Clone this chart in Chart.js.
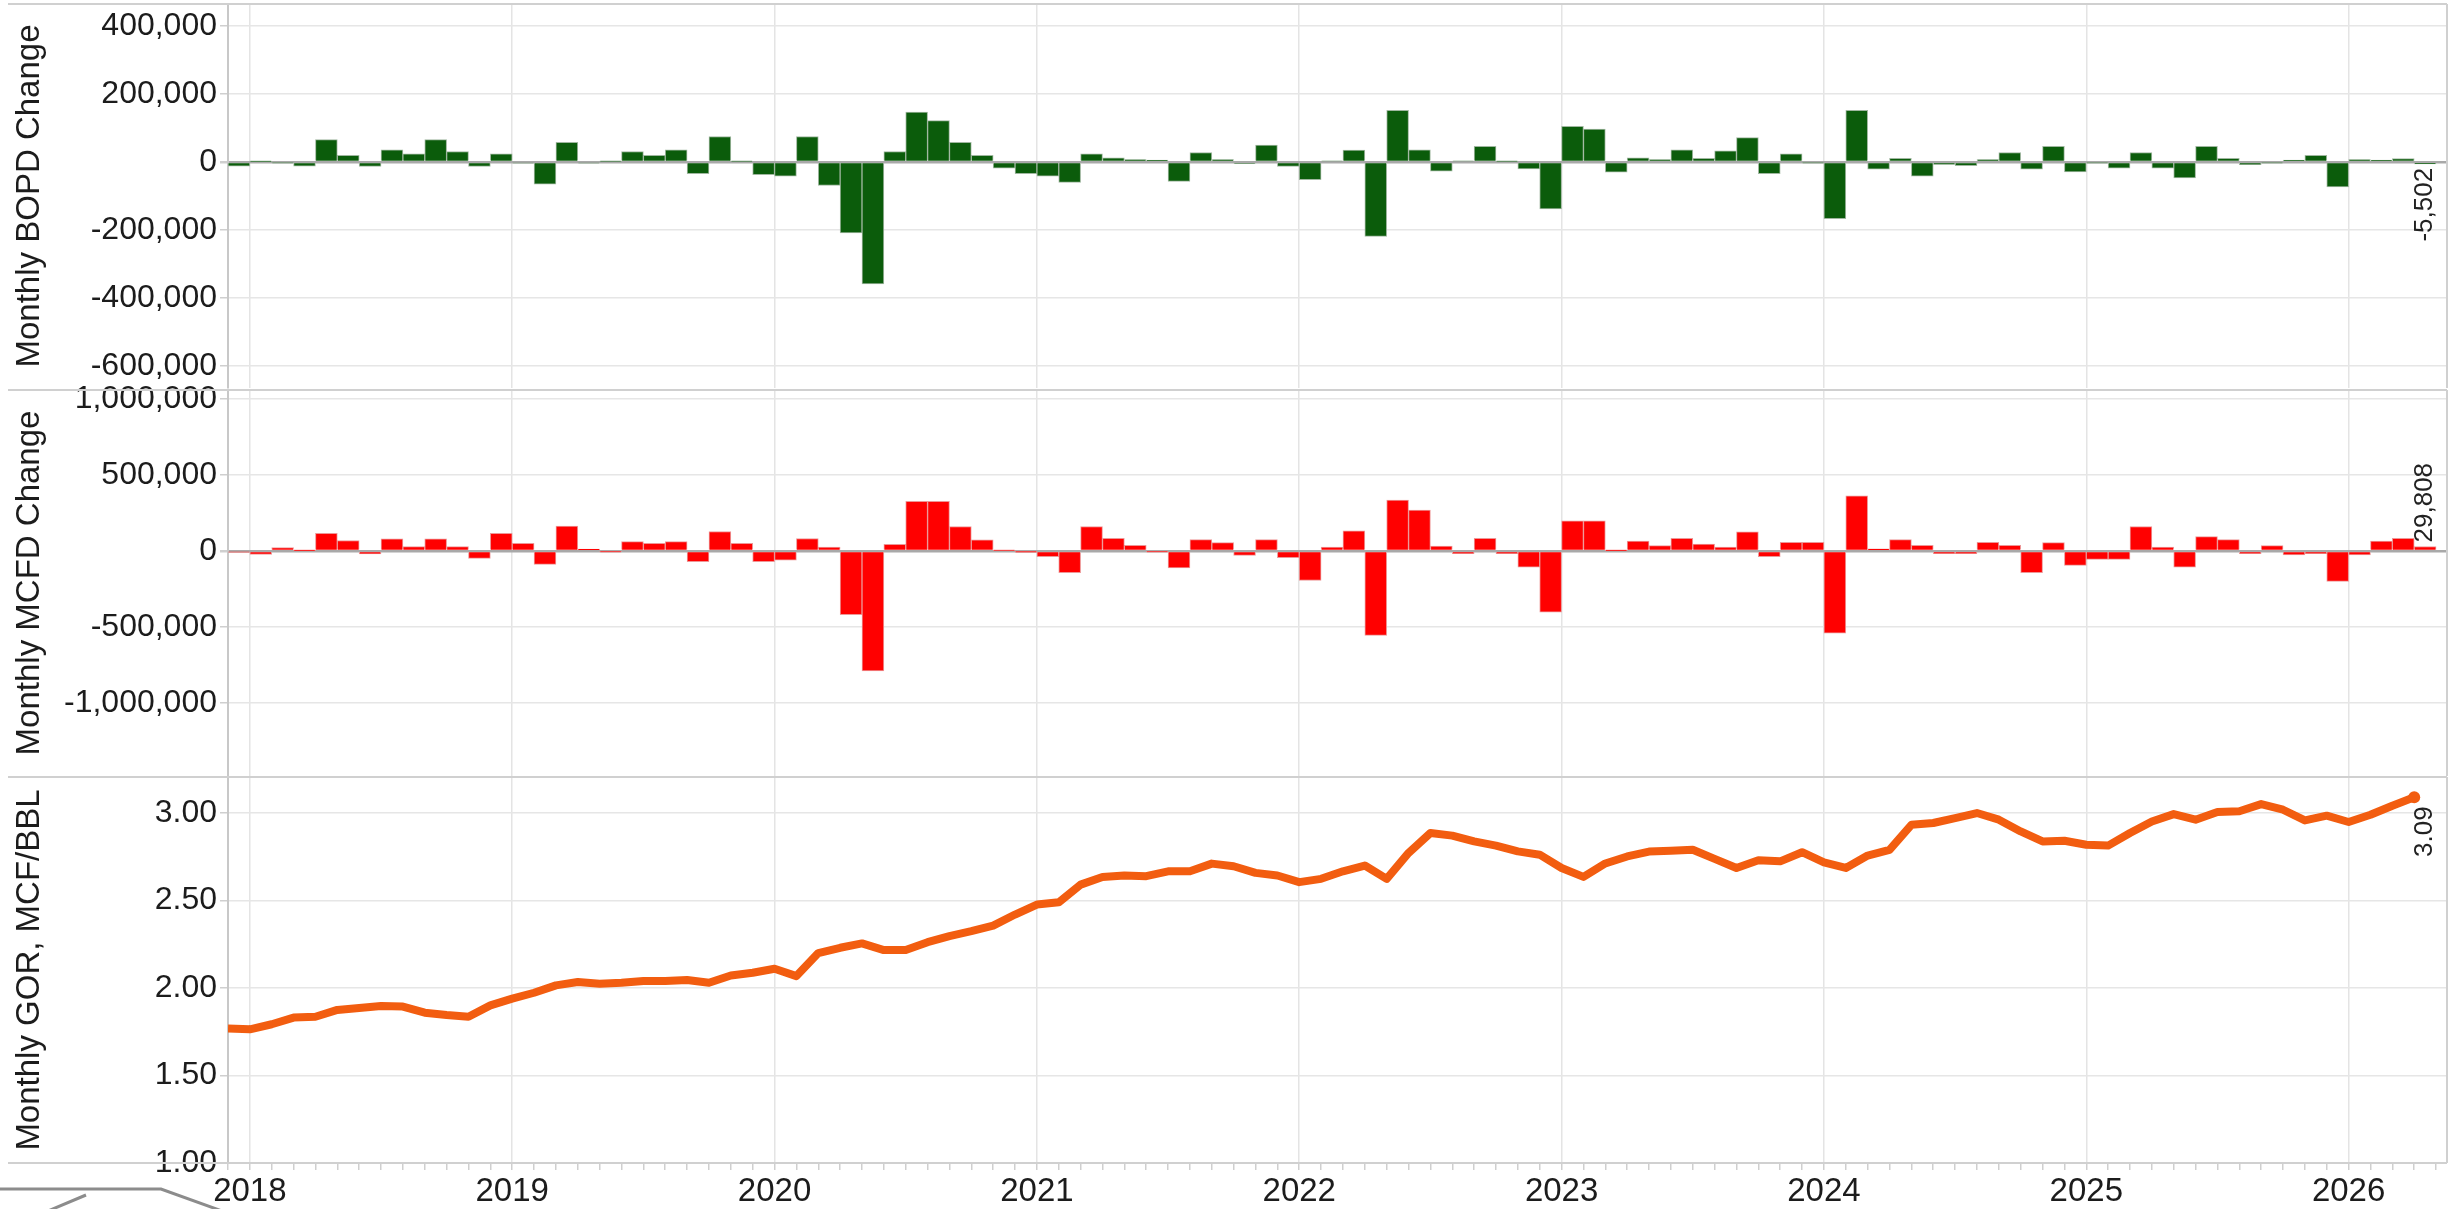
<!DOCTYPE html>
<html>
<head>
<meta charset="utf-8">
<script src="https://cdn.jsdelivr.net/npm/chart.js@4.4.1/dist/chart.umd.min.js"></script>
<style>
  html, body { margin: 0; padding: 0; background: #fff; }
  #wrap { position: relative; width: 2455px; height: 1209px; overflow: hidden; background: #fff; }
  #wrap canvas { position: absolute; left: 0; }
</style>
</head>
<body>
<div id="wrap">
  <canvas id="bopd" width="2455" height="444" style="top:-26px"></canvas>
  <canvas id="mcfd" width="2455" height="446" style="top:360px"></canvas>
  <canvas id="gor" width="2455" height="462" style="top:747px"></canvas>
</div>
<script>
// months run Dec 2017 .. Apr 2026, x = months after Jan 2018
var startYear = 2017, startMonth = 12, monthCount = 101;
var months = [];
for (var i = 0; i < monthCount; i++) {
    var m = startMonth - 1 + i;
    var y = startYear + Math.floor(m / 12);
    months.push(y + '-' + String(m % 12 + 1).padStart(2, '0'));
}
var yearTicks = ['2018', '2019', '2020', '2021', '2022', '2023', '2024', '2025', '2026'];
var bopdTicks = [-600000, -400000, -200000, 0, 200000, 400000];
var mcfdTicks = [-1000000, -500000, 0, 500000, 1000000];
var gorTicks = [1.0, 1.5, 2.0, 2.5, 3.0];

var bopdChange = [
    -12000,
    1000, -2000, -12000, 66000, 20000, -13000, 36000, 24000, 66000, 31000, -13000, 24000,
    -3000, -65000, 58000, -3000, 2000, 31000, 20000, 36000, -34000, 75000, 2000, -37000,
    -42000, 75000, -69000, -209000, -359000, 31000, 147000, 122000, 58000, 20000, -18000, -34000,
    -42000, -60000, 24000, 12000, 7000, 6000, -57000, 28000, 7000, -4000, 50000, -13000,
    -52000, 3000, 35000, -219000, 152000, 36000, -27000, 3000, 46000, 2000, -20000, -138000,
    105000, 97000, -30000, 12000, 7000, 36000, 11000, 33000, 72000, -34000, 24000, -2000,
    -167000, 152000, -21000, 11000, -42000, -7000, -11000, 7000, 28000, -21000, 46000, -29000,
    -2000, -18000, 28000, -18000, -47000, 46000, 11000, -8000, -2000, 6000, 20000, -73000,
    7000, 6000, 10000, -5502
];
var mcfdChange = [
    -5000,
    -22000, 22000, 1000, 117000, 69000, -20000, 80000, 29000, 80000, 29000, -49000, 117000,
    51000, -88000, 164000, 13000, -3000, 62000, 51000, 62000, -71000, 128000, 51000, -71000,
    -60000, 82000, 25000, -418000, -789000, 44000, 326000, 326000, 161000, 73000, 2000, -2000,
    -37000, -143000, 161000, 84000, 37000, -3000, -112000, 75000, 55000, -29000, 75000, -44000,
    -194000, 26000, 132000, -555000, 335000, 269000, 33000, -18000, 84000, -18000, -106000, -403000,
    198000, 198000, 1000, 66000, 35000, 84000, 46000, 26000, 126000, -37000, 57000, 57000,
    -540000, 363000, 15000, 75000, 37000, -18000, -18000, 57000, 37000, -143000, 55000, -95000,
    -55000, -55000, 161000, 26000, -106000, 95000, 75000, -18000, 35000, -26000, -18000, -200000,
    -26000, 66000, 84000, 29808
];
var gorMonthly = [
    1.768,
    1.764, 1.793, 1.831, 1.836, 1.875, 1.886, 1.897, 1.894, 1.859, 1.846, 1.836, 1.901,
    1.939, 1.973, 2.015, 2.034, 2.025, 2.030, 2.040, 2.040, 2.046, 2.030, 2.072, 2.087,
    2.110, 2.068, 2.200, 2.230, 2.255, 2.217, 2.217, 2.262, 2.297, 2.325, 2.357, 2.420,
    2.477, 2.490, 2.591, 2.635, 2.643, 2.639, 2.667, 2.667, 2.711, 2.696, 2.658, 2.643,
    2.605, 2.624, 2.667, 2.700, 2.624, 2.772, 2.886, 2.871, 2.838, 2.814, 2.781, 2.762,
    2.686, 2.635, 2.712, 2.752, 2.780, 2.785, 2.790, 2.738, 2.686, 2.730, 2.724, 2.776,
    2.718, 2.686, 2.757, 2.790, 2.933, 2.943, 2.971, 3.000, 2.962, 2.895, 2.838, 2.842,
    2.819, 2.814, 2.886, 2.952, 2.994, 2.962, 3.006, 3.010, 3.051, 3.019, 2.958, 2.985,
    2.949, 2.990, 3.042, 3.090
];

Chart.defaults.font.family = '"Liberation Sans", Arial, sans-serif';
Chart.defaults.color = '#1c1c1c';

function monthX(key) {
    var p = key.split('-');
    return (+p[0] - 2018) * 12 + (+p[1] - 1);
}

// frame lines that run across the whole width like the panel dividers
var frameLines = {
    id: 'frameLines',
    afterDraw: function(chart, args, opts) {
        var ctx = chart.ctx, a = chart.chartArea;
        ctx.save();
        ctx.strokeStyle = '#d0d0d0';
        ctx.lineWidth = 2;
        ctx.beginPath();
        ctx.moveTo(8, a.top); ctx.lineTo(a.right, a.top);
        ctx.moveTo(a.right, a.top); ctx.lineTo(a.right, a.bottom);
        if (opts.bottom) { ctx.moveTo(8, a.bottom); ctx.lineTo(a.right, a.bottom); }
        ctx.stroke();
        if (opts.tab) {
            // cut off tab outline in the lower left corner
            ctx.strokeStyle = '#8c8c8c';
            ctx.lineWidth = 3;
            ctx.beginPath();
            ctx.moveTo(0, a.bottom + 26); ctx.lineTo(161, a.bottom + 26); ctx.lineTo(222, a.bottom + 48);
            ctx.moveTo(48, a.bottom + 48); ctx.lineTo(86, a.bottom + 32);
            ctx.stroke();
        }
        ctx.restore();
    }
};

// rotated label with the latest value
var lastValue = {
    id: 'lastValue',
    afterDatasetsDraw: function(chart, args, opts) {
        var meta = chart.getDatasetMeta(0);
        var el = meta.data[meta.data.length - 1];
        var pt = chart.data.datasets[0].data[meta.data.length - 1];
        var x = chart.scales.x.getPixelForValue(opts.line ? pt.x + 0.5 : pt.x);
        var y, align;
        if (opts.line) { y = el.y + 9; align = 'right'; }
        else if (pt.y < 0) { y = Math.max(el.y, el.base) + 4; align = 'right'; }
        else { y = Math.min(el.y, el.base) - 4; align = 'left'; }
        var ctx = chart.ctx;
        ctx.save();
        ctx.translate(x, y);
        ctx.rotate(-Math.PI / 2);
        ctx.font = '26px "Liberation Sans", Arial, sans-serif';
        ctx.fillStyle = '#222';
        ctx.textAlign = align;
        ctx.textBaseline = 'middle';
        ctx.fillText(opts.format(pt.y), 0, 0);
        ctx.restore();
    }
};

function xAxis(showLabels) {
    return {
        type: 'linear',
        min: -1,
        max: 100.5,
        offset: false,
        afterFit: function(s) { s.height = showLabels ? 46 : 0; },
        border: { display: false },
        grid: {
            offset: false,
            drawTicks: showLabels,
            tickLength: 7,
            lineWidth: 1.5,
            color: function(c) { return c.tick && c.tick.value % 12 === 0 ? '#e4e4e4' : 'rgba(0,0,0,0)'; },
            tickColor: '#cfcfcf'
        },
        ticks: {
            display: showLabels,
            stepSize: 1,
            autoSkip: false,
            maxRotation: 0,
            includeBounds: false,
            padding: 2,
            font: { size: 33 },
            callback: function(v) { return v % 12 === 0 ? yearTicks[v / 12] : ''; }
        }
    };
}

function yAxis(title, min, max, tickValues, fmt) {
    return {
        min: min,
        max: max,
        afterFit: function(s) { s.width = 228; },
        afterBuildTicks: function(s) { s.ticks = tickValues.map(function(v) { return { value: v }; }); },
        border: { display: true, color: '#c8c8c8', width: 2 },
        grid: {
            lineWidth: function(c) { return c.tick && c.tick.value === 0 ? 2.5 : 1.5; },
            color: function(c) { return c.tick && c.tick.value === 0 ? '#a9a9a9' : '#e6e6e6'; },
            tickLength: 8,
            tickColor: '#cfcfcf'
        },
        ticks: {
            padding: 3,
            font: { size: 32 },
            callback: fmt
        },
        title: {
            display: true,
            text: title,
            font: { size: 33 },
            padding: { top: 10, bottom: 0 }
        }
    };
}

function thousands(v) { return Number(v).toLocaleString('en-US'); }

function barChart(id, title, values, fill, edge, min, max, tickValues) {
    return new Chart(id, {
        type: 'bar',
        data: {
            datasets: [{
                data: values.map(function(v, i) { return { x: monthX(months[i]) + 0.5, y: v }; }),
                backgroundColor: fill,
                borderColor: edge,
                borderWidth: 1,
                barPercentage: 1,
                categoryPercentage: 1
            }]
        },
        options: {
            responsive: false,
            animation: false,
            layout: { padding: { top: 30, right: 8, bottom: 30, left: 0 } },
            plugins: {
                legend: { display: false },
                tooltip: { enabled: false },
                frameLines: {},
                lastValue: { format: thousands }
            },
            scales: {
                x: xAxis(false),
                y: yAxis(title, min, max, tickValues, thousands)
            }
        },
        plugins: [frameLines, lastValue]
    });
}

barChart('bopd', 'Monthly BOPD Change', bopdChange, '#0b5c0b', 'rgba(150,175,150,0.9)',
    -665000, 465000, bopdTicks);
barChart('mcfd', 'Monthly MCFD Change', mcfdChange, '#ff0000', 'rgba(235,140,140,0.9)',
    -1480000, 1059000, mcfdTicks);

new Chart('gor', {
    type: 'line',
    data: {
        datasets: [{
            data: gorMonthly.map(function(v, i) { return { x: monthX(months[i]), y: v }; }),
            borderColor: '#f25d10',
            backgroundColor: '#f25d10',
            borderWidth: 8,
            tension: 0,
            borderJoinStyle: 'round',
            pointRadius: function(c) { return c.dataIndex === gorMonthly.length - 1 ? 6 : 0; },
            pointBorderWidth: 0
        }]
    },
    options: {
        responsive: false,
        animation: false,
        layout: { padding: { top: 30, right: 8, bottom: 0, left: 0 } },
        plugins: {
            legend: { display: false },
            tooltip: { enabled: false },
            frameLines: { bottom: true, tab: true },
            lastValue: { line: true, format: function(v) { return v.toFixed(2); } }
        },
        scales: {
            x: xAxis(true),
            y: yAxis('Monthly GOR, MCF/BBL', 1, 3.206, gorTicks, function(v) { return v.toFixed(2); })
        }
    },
    plugins: [frameLines, lastValue]
});
</script>
</body>
</html>
